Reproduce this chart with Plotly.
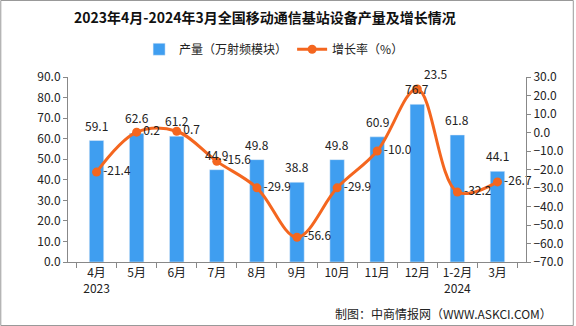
import plotly.graph_objects as go

categories = ["4月<br>2023", "5月", "6月", "7月", "8月", "9月", "10月", "11月", "12月", "1-2月<br>2024", "3月"]
output_vals = [59.1, 62.6, 61.2, 44.9, 49.8, 38.8, 49.8, 60.9, 76.7, 61.8, 44.1]
growth_vals = [-21.4, 0.2, 0.7, -15.6, -29.9, -56.6, -29.9, -10.0, 23.5, -32.2, -26.7]

FONT = "Noto Sans CJK SC"
BAR_C = "#3f9ef0"
LINE_C = "#f4661f"

fig = go.Figure()
fig.add_trace(go.Bar(
    x=categories, y=output_vals, name="产量（万射频模块）",
    marker_color=BAR_C,
))
fig.add_trace(go.Scatter(
    x=categories, y=growth_vals, name="增长率（%）", yaxis="y2",
    mode="lines+markers+text", line=dict(color=LINE_C, width=3, shape="spline", smoothing=1.0),
    marker=dict(color=LINE_C, size=9),
    text=[f"{v:.1f}" for v in growth_vals],
    textposition=["middle right"] * 8 + ["top right"] + ["middle right"] * 2,
    textfont=dict(size=12, color="#222", family=FONT), cliponaxis=False,
))

for c, v in zip(categories, output_vals):
    fig.add_annotation(x=c, y=v, xref="x", yref="y", text=f"{v:.1f}", showarrow=False,
                       yanchor="bottom", yshift=5, font=dict(size=12, color="#222", family=FONT))

fig.update_layout(
    width=576, height=326,
    margin=dict(l=68, r=48, t=77, b=64),
    paper_bgcolor="white", plot_bgcolor="white",
    font=dict(family=FONT, size=11, color="#222"),
    title=dict(text="<b>2023年4月-2024年3月全国移动通信基站设备产量及增长情况</b>",
               x=0.46, xanchor="center", y=0.945, yanchor="middle",
               font=dict(size=14, color="#111", family=FONT)),
    legend=dict(orientation="h", x=0.45, xanchor="center", y=1.15, yanchor="middle",
                font=dict(size=12, color="#222", family=FONT), bgcolor="rgba(0,0,0,0)"),
    bargap=0.64,
    showlegend=True,
    xaxis=dict(showline=True, linecolor="#888", linewidth=1, ticks="outside", tickson="boundaries",
               ticklen=5, tickcolor="#888", showgrid=False, tickfont=dict(size=12)),
    yaxis=dict(range=[0, 90], dtick=10, tickformat=".1f", showline=True, linecolor="#888",
               ticks="outside", ticklen=4, tickcolor="#888", showgrid=False, zeroline=False,
               tickfont=dict(size=12)),
    yaxis2=dict(range=[-70, 30], dtick=10, tickformat=".1f", overlaying="y", side="right",
                showline=True, linecolor="#888", ticks="outside", ticklen=4, tickcolor="#888",
                showgrid=False, zeroline=False, tickfont=dict(size=12)),
)

fig.add_annotation(text="制图：中商情报网（WWW.ASKCI.COM）", xref="paper", yref="paper",
                   x=(556 - 68) / 460, y=-(313 - 262) / 185, xanchor="right", yanchor="middle",
                   showarrow=False, font=dict(size=12, color="#222", family=FONT))

fig.add_shape(type="rect", xref="paper", yref="paper",
              x0=-67.5 / 460, x1=507.5 / 460, y0=-63.5 / 185, y1=1 + 76.5 / 185,
              line=dict(color="#999", width=1))

fig.write_html("out.html")
